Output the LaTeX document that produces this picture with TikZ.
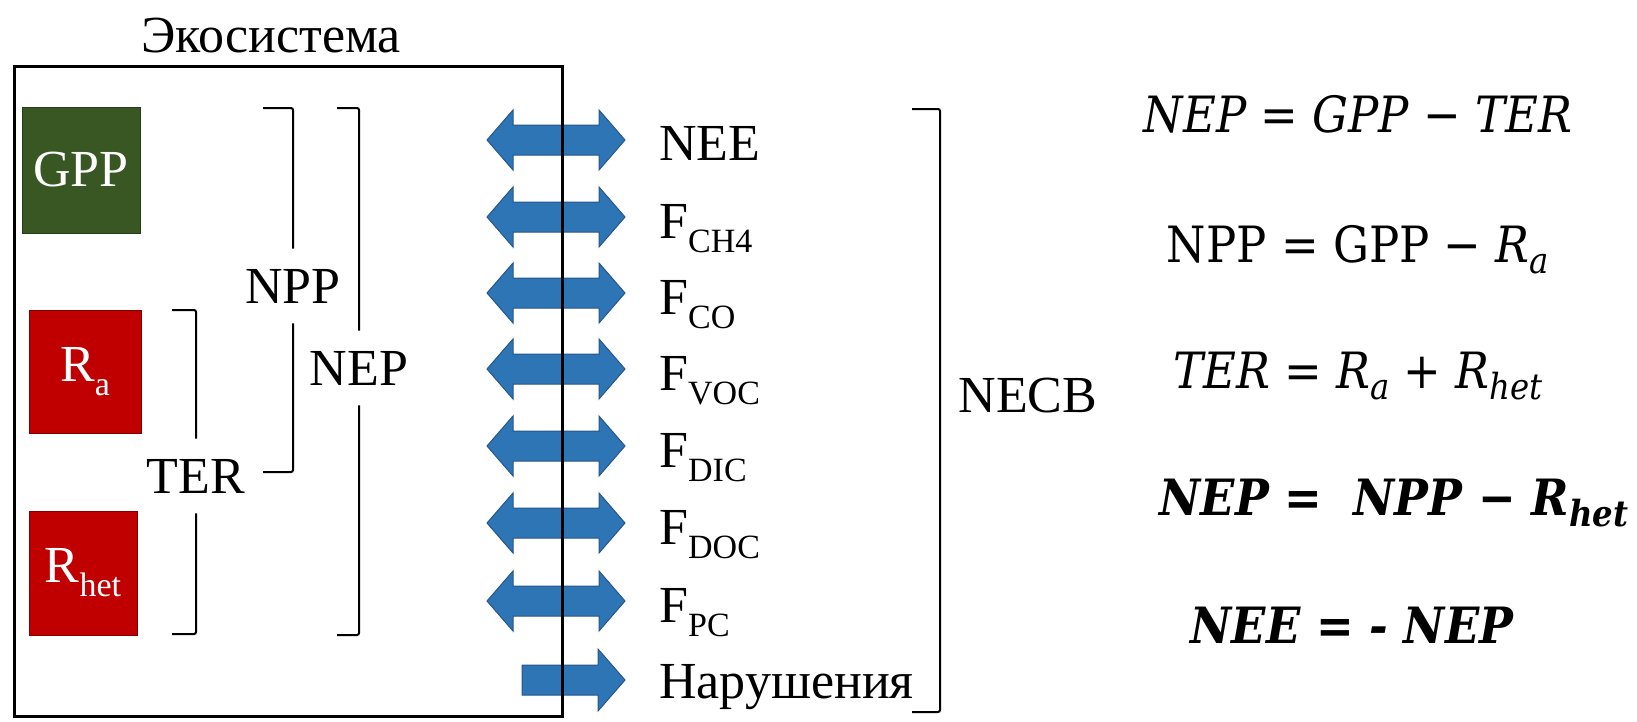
\documentclass[tikz,border=0pt]{standalone}
\usepackage{fontspec}
\setmainfont{Liberation Serif}
\newfontfamily\eqfont{DejaVu Serif}[FakeStretch=0.9]
\newcommand{\lowsub}[1]{\raisebox{-14pt}{\fontsize{34}{34}\selectfont #1}}
\newcommand{\eqsub}[1]{\raisebox{-11pt}{\fontsize{36}{36}\selectfont #1}}
\newcommand{\bigtxt}{\fontsize{52}{56}\selectfont}
\newcommand{\eqtxt}{\eqfont\fontsize{50}{54}\selectfont}

\tikzset{every picture/.style={line width=0.5pt}}
\tikzset{
  lbl/.style={inner sep=0pt, font=\bigtxt},
  brlbl/.style={inner xsep=0pt, inner ysep=20pt, font=\bigtxt},
  brk/.style={line width=2, rounded corners=2},
  flux/.style={fill={rgb, 255:red, 46; green, 117; blue, 182}, draw={rgb, 255:red, 38; green, 86; blue, 140}, line width=1},
  gppbox/.style={fill={rgb, 255:red, 56; green, 87; blue, 35}, draw={rgb, 255:red, 38; green, 60; blue, 24}, line width=1, text=white, font=\bigtxt, inner sep=0pt},
  resbox/.style={fill={rgb, 255:red, 192; green, 0; blue, 0}, draw={rgb, 255:red, 130; green, 0; blue, 0}, line width=1, text=white, font=\bigtxt, inner sep=0pt},
  eqn/.style={inner sep=0pt, font=\eqtxt, anchor=base},
  dblflux/.pic={\path[flux] (-69,0) -- (-43,-30) -- (-43,-15) -- (43,-15) -- (43,-30) -- (69,0) -- (43,30) -- (43,15) -- (-43,15) -- (-43,30) -- cycle;},
  oneflux/.pic={\path[flux] (-34,-15) -- (42,-15) -- (42,-31) -- (69,0) -- (42,31) -- (42,15) -- (-34,15) -- cycle;}
}

\begin{document}
\begin{tikzpicture}[x=1pt,y=1pt,yscale=-1,xscale=1]
\useasboundingbox (0,0) rectangle (1637,721);

% Title
\node[lbl, anchor=base] (eco) at (271,52) {Экосистема};

% Pools
\node[gppbox, minimum width=118, minimum height=126] (gpp) at (81,170) {GPP};
\node[resbox, minimum width=112, minimum height=123] (ra) at (85,372) {R\lowsub{a}};
\node[resbox, minimum width=108, minimum height=124] (rhet) at (83,573) {R\lowsub{het}};

% Fluxes
\pic at (556,140) {dblflux};
\pic at (556,217) {dblflux};
\pic at (556,293) {dblflux};
\pic at (556,369) {dblflux};
\pic at (556,446) {dblflux};
\pic at (556,523) {dblflux};
\pic at (556,601) {dblflux};
\pic at (556,680) {oneflux};

% Ecosystem border
\draw[line width=3] (14,66) rectangle (562,716);

% Text Node
\node[lbl, anchor=base west] (nee) at (659,160) {NEE};
\node[lbl, anchor=base west] (fch) at (659,238) {F\lowsub{CH4}};
\node[lbl, anchor=base west] (fco) at (659,314) {F\lowsub{CO}};
\node[lbl, anchor=base west] (fvoc) at (659,390) {F\lowsub{VOC}};
\node[lbl, anchor=base west] (fdic) at (659,467) {F\lowsub{DIC}};
\node[lbl, anchor=base west] (fdoc) at (659,544) {F\lowsub{DOC}};
\node[lbl, anchor=base west] (fpc) at (659,622) {F\lowsub{PC}};
\node[lbl, anchor=base west] (dist) at (659,698) {Нарушения};

% Brackets
\coordinate (tertop) at (172,310);
\coordinate (terbot) at (172,634);
\node[brlbl] (ter) at (196,476) {TER};
\draw[brk] (tertop) -| (ter.north);
\draw[brk] (terbot) -| (ter.south);

\coordinate (npptop) at (263,108);
\coordinate (nppbot) at (263,472);
\node[brlbl] (npp) at (293,286) {NPP};
\draw[brk] (npptop) -| (npp.north);
\draw[brk] (nppbot) -| (npp.south);

\coordinate (neptop) at (337,108);
\coordinate (nepbot) at (337,635);
\node[brlbl] (nep) at (359,368) {NEP};
\draw[brk] (neptop) -| (nep.north);
\draw[brk] (nepbot) -| (nep.south);

\coordinate (necbtop) at (912,109);
\coordinate (necbbot) at (912,712);
\node[lbl] (necb) at (1028,396) {NECB};
\draw[brk] (necbtop) -- ++(28,0) |- (necbbot);

% Equations
\node[eqn] (eq1) at (1358,132) {\itshape NEP = GPP − TER};
\node[eqn] (eq2) at (1358,262) {NPP = GPP − \textit{R}\eqsub{\itshape a}};
\node[eqn] (eq3) at (1358,388) {\itshape TER = R\eqsub{a} + R\eqsub{het}};
\node[eqn] (eq4) at (1394,515) {\bfseries\itshape NEP =\ \ NPP − R\eqsub{het}};
\node[eqn] (eq5) at (1352,643) {\bfseries\itshape NEE = - NEP};
\end{tikzpicture}
\end{document}
